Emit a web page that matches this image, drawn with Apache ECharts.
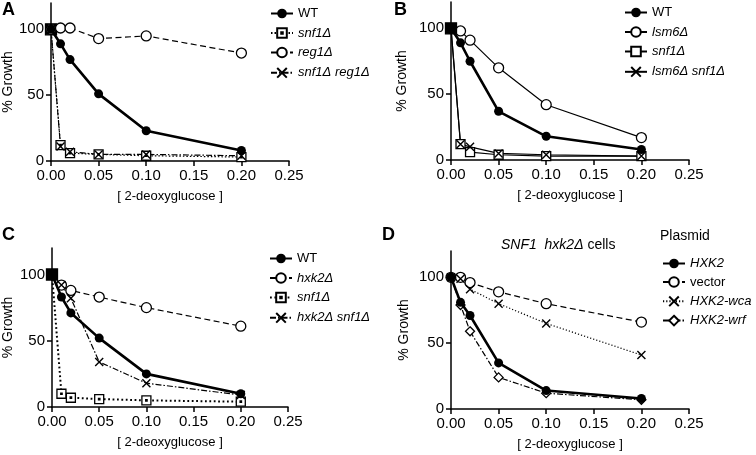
<!DOCTYPE html>
<html><head><meta charset="utf-8">
<script src="https://cdn.jsdelivr.net/npm/echarts@6/dist/echarts.min.js"></script>
<style>html,body{margin:0;padding:0;background:#fff}#c{width:756px;height:455px}</style>
</head><body><div id="c"></div>
<script>
// ---- data ----
const dose = [0, 0.01, 0.02, 0.05, 0.1, 0.2];
const xTicks = [0, 0.05, 0.1, 0.15, 0.2, 0.25];
const yTicks = [0, 50, 100];

const panelLabels = ['A', 'B', 'C', 'D'];

const aNames = ['WT', 'snf1Δ', 'reg1Δ', 'snf1Δ reg1Δ'];
const aWT = [100, 89, 77, 51, 23, 8];
const aSnf1 = [100, 12, 6, 5, 4, 3];
const aReg1 = [100, 101, 101, 93, 95, 82];
const aSnf1Reg1 = [100, 11, 7, 5, 5, 4];

const bNames = ['WT', 'lsm6Δ', 'snf1Δ', 'lsm6Δ snf1Δ'];
const bWT = [100, 89, 75, 37, 18, 8];
const bLsm6 = [100, 98, 91, 70, 42, 17];
const bSnf1 = [100, 12, 6, 4, 3, 3];
const bLsm6Snf1 = [100, 12, 10, 5, 4, 3];

const cNames = ['WT', 'hxk2Δ', 'snf1Δ', 'hxk2Δ snf1Δ'];
const cWT = [100, 83, 71, 52, 25, 10];
const cHxk2 = [100, 92, 88, 83, 75, 61];
const cSnf1 = [100, 10, 7, 6, 5, 4];
const cHxk2Snf1 = [100, 92, 82, 34, 18, 9];

const dTitleItalic = 'SNF1  hxk2Δ';
const dTitlePlain = ' cells';
const dLegendTitle = 'Plasmid';
const dNames = ['HXK2', 'vector', 'HXK2-wca', 'HXK2-wrf'];
const dHXK2 = [100, 81, 71, 35, 14, 8];
const dVector = [100, 100, 96, 89, 80, 66];
const dWca = [100, 99, 91, 80, 65, 41];
const dWrf = [100, 79, 59, 24, 12, 7];

const xName = '[ 2-deoxyglucose ]';
const yName = '% Growth';

// ---- styles ----
const FONT = '"Liberation Sans", Arial, sans-serif';
const CROSS = 'path://M0,0L10,10M10,0L0,10';
const DOTSQ = 'path://M0,0H10V10H0ZM4.2,4.2H5.8V5.8H4.2Z';
const DASH = [6, 3.5];
const DOT = [1.5, 2];
const DASHDOT = [6, 2, 1.5, 2];

const styles = {
  wt:     {symbol: 'circle', fill: '#000', bw: 0, lw: 2.6, type: 'solid', size: 9},
  circ:   {symbol: 'circle', fill: '#fff', bw: 1.3, lw: 1.2, type: 'solid', size: 10},
  rect:   {symbol: 'rect', fill: '#fff', bw: 1.3, lw: 1.2, type: 'solid', size: 9},
  dotsq:  {symbol: DOTSQ, fill: '#fff', bw: 1.3, lw: 1.2, type: 'solid', size: 9},
  cross:  {symbol: CROSS, fill: 'none', bw: 1.4, lw: 1.2, type: 'solid', size: 8},
  diam:   {symbol: 'diamond', fill: '#fff', bw: 1.3, lw: 1.2, type: 'solid', size: 10}
};
function st(base, extra) { return Object.assign({}, styles[base], extra || {}); }

const panels = [
  {grid: {left: 51, top: 3, width: 238, height: 158}, nameGap: 31,
   legend: {left: 270, top: 7},
   series: [
     {name: aNames[0], vals: aWT, s: st('wt'), italic: false},
     {name: aNames[1], vals: aSnf1, s: st('dotsq', {type: DOT, firstFill: true}), italic: true},
     {name: aNames[2], vals: aReg1, s: st('circ', {type: DASH}), italic: true},
     {name: aNames[3], vals: aSnf1Reg1, s: st('cross', {type: DASHDOT}), italic: true}
   ]},
  {grid: {left: 451, top: 2, width: 238, height: 158}, nameGap: 42,
   legend: {left: 624, top: 6},
   series: [
     {name: bNames[0], vals: bWT, s: st('wt'), italic: false},
     {name: bNames[1], vals: bLsm6, s: st('circ'), italic: true},
     {name: bNames[2], vals: bSnf1, s: st('rect', {firstFill: true}), italic: true},
     {name: bNames[3], vals: bLsm6Snf1, s: st('cross'), italic: true}
   ]},
  {grid: {left: 51, top: 248, width: 237, height: 159}, nameGap: 37,
   legend: {left: 269, top: 252},
   series: [
     {name: cNames[0], vals: cWT, s: st('wt'), italic: false},
     {name: cNames[1], vals: cHxk2, s: st('circ', {type: DASH}), italic: true},
     {name: cNames[2], vals: cSnf1, s: st('dotsq', {type: [1.8, 2.6], lw: 2, firstFill: true}), italic: true},
     {name: cNames[3], vals: cHxk2Snf1, s: st('cross', {type: DASHDOT}), italic: true}
   ]},
  {grid: {left: 451, top: 251, width: 238, height: 158}, nameGap: 40,
   legend: {left: 662, top: 257, gap: 5.5},
   series: [
     {name: dNames[0], vals: dHXK2, s: st('wt'), italic: true},
     {name: dNames[1], vals: dVector, s: st('circ', {type: DASH}), italic: false},
     {name: dNames[2], vals: dWca, s: st('cross', {type: [1.2, 2]}), italic: true},
     {name: dNames[3], vals: dWrf, s: st('diam', {type: DASHDOT, size: 9}), italic: true}
   ]}
];

const option = {
  animation: false,
  backgroundColor: '#fff',
  grid: [], xAxis: [], yAxis: [], series: [], legend: [],
  title: []
};
const italicKeys = new Set();

panels.forEach((p, gi) => {
  option.grid.push(Object.assign({containLabel: false}, p.grid));
  option.xAxis.push({
    type: 'value', gridIndex: gi, min: 0, max: 0.25, interval: 0.05,
    name: xName, nameLocation: 'middle', nameGap: 29,
    nameTextStyle: {fontFamily: FONT, fontSize: 13, color: '#000'},
    axisLine: {lineStyle: {color: '#000', width: 1.5}},
    axisTick: {show: true, length: 5, lineStyle: {color: '#000', width: 1.5}, customValues: xTicks},
    axisLabel: {fontFamily: FONT, fontSize: 15, color: '#000', margin: 7,
      customValues: xTicks, formatter: v => v.toFixed(2)},
    splitLine: {show: false}
  });
  option.yAxis.push({
    type: 'value', gridIndex: gi, min: 0, max: 120, interval: 50,
    name: yName, nameLocation: 'middle', nameGap: p.nameGap, nameRotate: 90,
    nameTextStyle: {fontFamily: FONT, fontSize: 14, color: '#000'},
    axisLine: {show: true, lineStyle: {color: '#000', width: 1.5}},
    axisTick: {show: true, length: 5, lineStyle: {color: '#000', width: 1.5}, customValues: yTicks},
    axisLabel: {fontFamily: FONT, fontSize: 15, color: '#000', margin: 7, customValues: yTicks},
    splitLine: {show: false}
  });
  const legendData = [];
  p.series.forEach((sd, si) => {
    const key = panelLabels[gi] + '|' + sd.name;
    legendData.push(key);
    if (sd.italic) italicKeys.add(key);
    const s = sd.s;
    option.series.push({
      type: 'line', name: key, xAxisIndex: gi, yAxisIndex: gi,
      z: si === 0 ? 5 : 3,
      symbol: s.symbol, symbolSize: s.size, showAllSymbol: true,
      lineStyle: {color: '#000', width: s.lw, type: s.type},
      itemStyle: {color: s.fill, borderColor: '#000', borderWidth: s.bw},
      emphasis: {disabled: true},
      data: dose.map((x, i) => {
        const d = {value: [x, sd.vals[i]]};
        if (i === 0 && s.firstFill) { d.itemStyle = {color: '#000'}; d.symbolSize = 11; }
        return d;
      })
    });
  });
  option.legend.push({
    orient: 'vertical', left: p.legend.left, top: p.legend.top,
    itemWidth: 22, itemHeight: 12, itemGap: p.legend.gap || 6.5, padding: 0,
    selectedMode: false,
    data: legendData,
    formatter: name => {
      const lab = name.split('|')[1];
      return (italicKeys.has(name) ? '{i|' : '{n|') + lab + '}';
    },
    textStyle: {
      color: '#000', fontFamily: FONT, fontSize: 13,
      rich: {
        i: {fontStyle: 'italic', fontFamily: FONT, fontSize: 13, color: '#000'},
        n: {fontFamily: FONT, fontSize: 13, color: '#000'}
      }
    }
  });
});

const letterPos = [[2, 1], [394, 1], [2, 226], [382, 226]];
panelLabels.forEach((L, i) => {
  option.title.push({
    text: L, left: letterPos[i][0], top: letterPos[i][1], padding: 0,
    textStyle: {fontFamily: FONT, fontSize: 18, fontWeight: 'bold', color: '#000'}
  });
});
option.title.push({
  text: '{i|' + dTitleItalic + '}{n|' + dTitlePlain + '}',
  left: 501, top: 238, padding: 0,
  textStyle: {fontWeight: 'normal', rich: {
    i: {fontFamily: FONT, fontSize: 14, fontStyle: 'italic', fontWeight: 'normal', color: '#000'},
    n: {fontFamily: FONT, fontSize: 14, fontWeight: 'normal', color: '#000'}
  }}
});
option.title.push({
  text: dLegendTitle, left: 660, top: 229, padding: 0,
  textStyle: {fontFamily: FONT, fontSize: 14, fontWeight: 'normal', color: '#000'}
});

const chart = echarts.init(document.getElementById('c'), null, {renderer: 'canvas'});
chart.setOption(option);
</script></body></html>
